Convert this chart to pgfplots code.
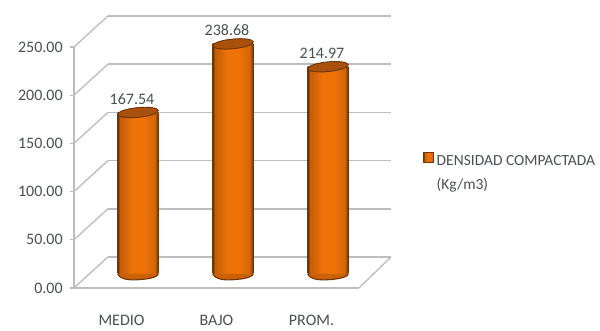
\documentclass[border=0pt]{standalone}
\usepackage{fontspec}
\setmainfont{Carlito}
\usepackage{pgfplots}
\usepackage{pgfplotstable}
\pgfplotsset{compat=1.18}

\definecolor{wallgray}{HTML}{BDBDBD}
\definecolor{txtgray}{HTML}{4A4F55}
\definecolor{capbrown}{HTML}{A9500C}
\definecolor{edgebrown}{HTML}{6E3508}
\definecolor{bodyorange}{HTML}{EE7208}

% Shading across a cylinder: dark rims, bright orange body
\pgfdeclarehorizontalshading{cylbody}{100bp}{
  color(0bp)=(edgebrown);
  color(25.5bp)=(edgebrown);
  color(27.5bp)=(bodyorange!82!black);
  color(43bp)=(bodyorange);
  color(58bp)=(bodyorange);
  color(71bp)=(bodyorange!88!black);
  color(74.5bp)=(edgebrown);
  color(100bp)=(edgebrown)}

% Tilted ellipse closing the top of a cylinder
\pgfdeclareplotmark{cyltop}{%
  \pgfpathellipse{\pgfpointorigin}{\pgfpoint{15.2pt}{1.5pt}}{\pgfpoint{-0.4pt}{3.6pt}}%
  \pgfusepathqfillstroke}

% Lower rim of a cylinder, rising to the right
\pgfdeclareplotmark{cylbottom}{%
  \pgfpathmoveto{\pgfpoint{-15.2pt}{0pt}}%
  \pgfpathcurveto{\pgfpoint{-14pt}{-3.6pt}}{\pgfpoint{-8pt}{-4.6pt}}{\pgfpoint{-2pt}{-4.4pt}}%
  \pgfpathcurveto{\pgfpoint{6pt}{-4.2pt}}{\pgfpoint{14.5pt}{-2.8pt}}{\pgfpoint{15.2pt}{0pt}}%
  \pgfusepathqfillstroke}

% Category position and compacted density
\pgfplotstableread{
x   value
138 167.54
233 238.68
328 214.97
}\densidad

\begin{document}
\begin{tikzpicture}
\begin{axis}[
  scale only axis,
  width=213.75pt, height=180.75pt,
  xmin=74, xmax=359, ymin=-14.5, ymax=235.5,
  clip=false,
  axis lines=left,
  axis line style={wallgray, line width=1.2pt, -},
  every tick/.style={wallgray, line width=0.9pt},
  tick align=outside,
  major tick length=3pt,
  xtick={121.5,216.5,311.5},
  xticklabels={MEDIO,BAJO,PROM.},
  x tick style={draw=none},
  extra x ticks={74,169,264,359},
  extra x tick labels={},
  extra x tick style={tick style={wallgray, line width=0.9pt}},
  ytick={-14.5,35.5,85.5,135.5,185.5,235.5},
  yticklabels={0.00,50.00,100.00,150.00,200.00,250.00},
  tick label style={font=\fontsize{12}{14}\selectfont, text=txtgray},
  y tick label style={xshift=-2pt},
  x tick label style={yshift=-14pt},
  legend style={at={(axis cs:423,127)}, anchor=north west, draw=none, fill=none,
    font=\fontsize{11.6}{14}\selectfont, text=txtgray, inner sep=0pt,
    /tikz/every even column/.append style={column sep=2pt}},
  legend cell align=left,
  legend image code/.code={
    \draw[draw=edgebrown, fill=capbrown, line width=0.6pt]
      (0pt,-0.5pt) rectangle (7.5pt,7pt);},
  /pgf/number format/assume math mode=true,
]
% Back wall, side wall and floor
\addplot[wallgray, line width=1.2pt, forget plot] coordinates {(108,17.7) (391,17.7)};
\addplot[wallgray, line width=1.2pt, forget plot] coordinates {(108,67.7) (391,67.7)};
\addplot[wallgray, line width=1.2pt, forget plot] coordinates {(108,117.7) (391,117.7)};
\addplot[wallgray, line width=1.2pt, forget plot] coordinates {(108,167.7) (391,167.7)};
\addplot[wallgray, line width=1.2pt, forget plot] coordinates {(108,217.7) (391,217.7)};
\addplot[wallgray, line width=1.2pt, forget plot] coordinates {(108,267.7) (391,267.7)};
\addplot[wallgray, line width=1pt, forget plot] coordinates {(74,-14.5) (108,17.7)};
\addplot[wallgray, line width=1pt, forget plot] coordinates {(74,35.5) (108,67.7)};
\addplot[wallgray, line width=1pt, forget plot] coordinates {(74,85.5) (108,117.7)};
\addplot[wallgray, line width=1pt, forget plot] coordinates {(74,135.5) (108,167.7)};
\addplot[wallgray, line width=1pt, forget plot] coordinates {(74,185.5) (108,217.7)};
\addplot[wallgray, line width=1pt, forget plot] coordinates {(74,235.5) (108,267.7)};
\addplot[wallgray, line width=1pt, forget plot] coordinates {(359,-14.5) (391,17.7)};

% Cylinder bottoms
\addplot[only marks, mark=cylbottom, forget plot,
  mark options={draw=edgebrown, fill=bodyorange!85!black, line width=0.8pt}]
  table[x=x, y expr=0*\thisrow{value}] {\densidad};

% Cylinder bodies, one plot each so that every bar gets its own shading
\addplot[ybar, bar width=30.4pt, bar shift=0pt, draw=none, shading=cylbody, forget plot,
  restrict x to domain=233:233]
  table[x=x, y=value] {\densidad};
\addplot[ybar, bar width=30.4pt, bar shift=0pt, draw=none, shading=cylbody, forget plot,
  restrict x to domain=328:328]
  table[x=x, y=value] {\densidad};
\addplot[ybar, bar width=30.4pt, bar shift=0pt, draw=none, shading=cylbody,
  restrict x to domain=138:138]
  table[x=x, y=value] {\densidad};
\addlegendentry{\parbox[t]{118pt}{\mbox{DENSIDAD COMPACTADA}\\[4pt]\mbox{(Kg/m3)}}}

% Cylinder tops with the value labels
\addplot[only marks, mark=cyltop, forget plot,
  mark options={draw=edgebrown, fill=capbrown, line width=0.7pt},
  nodes near coords,
  point meta=y,
  nodes near coords style={anchor=base, xshift=-4.5pt, yshift=6pt, text=txtgray,
    font=\fontsize{12}{14}\selectfont,
    /pgf/number format/fixed, /pgf/number format/fixed zerofill,
    /pgf/number format/precision=2}]
  table[x=x, y=value] {\densidad};

% Extent of the whole picture
\coordinate (pagebl) at (axis cs:0,-52.9);
\coordinate (pagetr) at (axis cs:600,284.2);
\end{axis}
\path (pagebl) rectangle (pagetr);
\end{tikzpicture}
\end{document}
